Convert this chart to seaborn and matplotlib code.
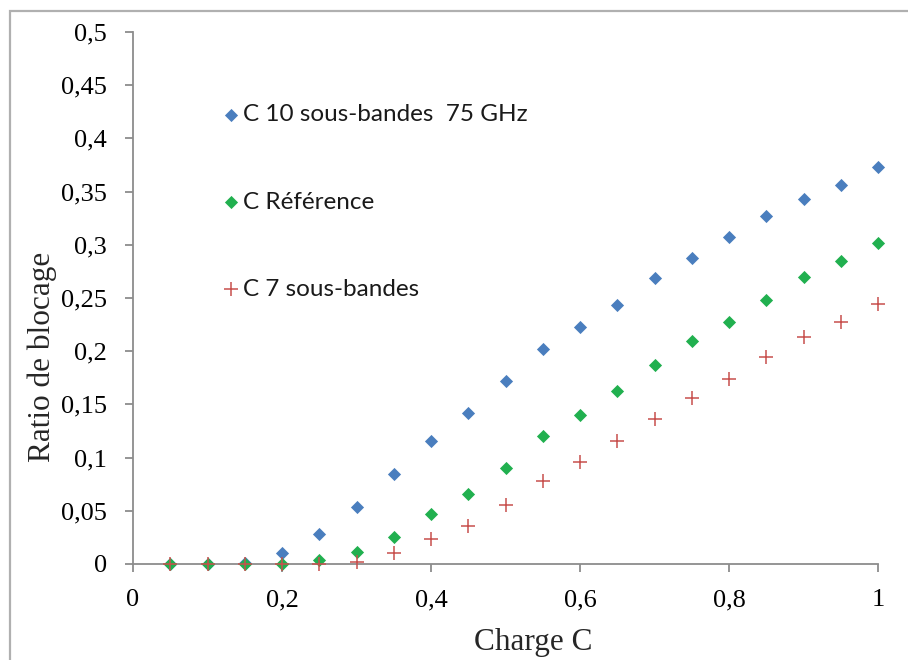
import pandas as pd
import seaborn as sns
import matplotlib.pyplot as plt
from matplotlib.patches import Rectangle
from matplotlib.ticker import FuncFormatter

charge = [0.05, 0.10, 0.15, 0.20, 0.25, 0.30, 0.35, 0.40, 0.45, 0.50,
          0.55, 0.60, 0.65, 0.70, 0.75, 0.80, 0.85, 0.90, 0.95, 1.00]

c10_75ghz = [0.0, 0.0, 0.001, 0.010, 0.028, 0.054, 0.085, 0.116, 0.142, 0.172,
             0.202, 0.223, 0.243, 0.269, 0.288, 0.307, 0.327, 0.343, 0.356, 0.373]
c_reference = [0.0, 0.0, 0.0, 0.0, 0.004, 0.011, 0.025, 0.047, 0.066, 0.090,
               0.120, 0.140, 0.163, 0.187, 0.210, 0.227, 0.248, 0.270, 0.285, 0.302]
c7 = [0.0, 0.0, 0.0, 0.0, 0.0, 0.002, 0.010, 0.023, 0.036, 0.055,
      0.078, 0.096, 0.116, 0.136, 0.156, 0.174, 0.195, 0.213, 0.227, 0.244]

labels = ["C 10 sous-bandes  75 GHz", "C Référence", "C 7 sous-bandes"]

df = pd.DataFrame({
    "charge": charge * 3,
    "ratio": c10_75ghz + c_reference + c7,
    "serie": [labels[0]] * 20 + [labels[1]] * 20 + [labels[2]] * 20,
})

sns.set_theme(style="white")
plt.rcParams["font.family"] = ["Liberation Serif", "DejaVu Serif"]

fig = plt.figure(figsize=(9.08, 6.6), dpi=100)
ax = fig.add_axes([0.1465, 0.1455, 0.8205, 0.806])

palette = {labels[0]: "#4A7EBE", labels[1]: "#21B04F", labels[2]: "#C8504D"}

for lab in labels:
    sub = df[df["serie"] == lab]
    if lab == labels[2]:
        sns.scatterplot(data=sub, x="charge", y="ratio", color=palette[lab],
                        marker="+", s=90, linewidth=1.1, label=lab, ax=ax,
                        clip_on=False, zorder=4)
    else:
        sns.scatterplot(data=sub, x="charge", y="ratio", color=palette[lab],
                        marker="D", s=45, linewidth=0, label=lab, ax=ax,
                        clip_on=False, zorder=3)

ax.set_xlim(0, 1)
ax.set_ylim(0, 0.5)
ax.set_xticks([0, 0.2, 0.4, 0.6, 0.8, 1.0])
ax.set_yticks([i * 0.05 for i in range(11)])


def comma(v, pos):
    s = ("%.2f" % v).rstrip("0").rstrip(".")
    return s.replace(".", ",")


ax.xaxis.set_major_formatter(FuncFormatter(comma))
ax.yaxis.set_major_formatter(FuncFormatter(comma))

for side in ["top", "right"]:
    ax.spines[side].set_visible(False)
for side in ["left", "bottom"]:
    ax.spines[side].set_color("#8C8C8C")
    ax.spines[side].set_linewidth(1.3)
    ax.spines[side].set_zorder(2)

ax.tick_params(axis="both", which="major", direction="out", length=6,
               width=1.3, color="#8C8C8C", labelsize=19, labelcolor="black",
               left=True, bottom=True)
ax.tick_params(axis="x", pad=12)
ax.tick_params(axis="y", pad=13)

ax.set_xlabel("Charge C", fontsize=22.5)
ax.set_ylabel("Ratio de blocage", fontsize=22.5)
ax.xaxis.set_label_coords(0.537, -0.12)
ax.yaxis.set_label_coords(-0.102, 0.389)

leg = ax.legend(loc="upper left", bbox_to_anchor=(0.083, 0.905), frameon=False,
                labelspacing=2.72, handletextpad=-0.1, handlelength=1.2,
                prop={"family": ["Lato", "DejaVu Sans"], "size": 17.5})
for t in leg.get_texts():
    t.set_color("#1a1a1a")

fig.patches.append(Rectangle((10 / 908, -0.1), 1.2, (660 - 11) / 660 + 0.1,
                             transform=fig.transFigure, fill=False,
                             edgecolor="#B0B0B0", linewidth=1.6))

plt.savefig("out.png", dpi=100)
